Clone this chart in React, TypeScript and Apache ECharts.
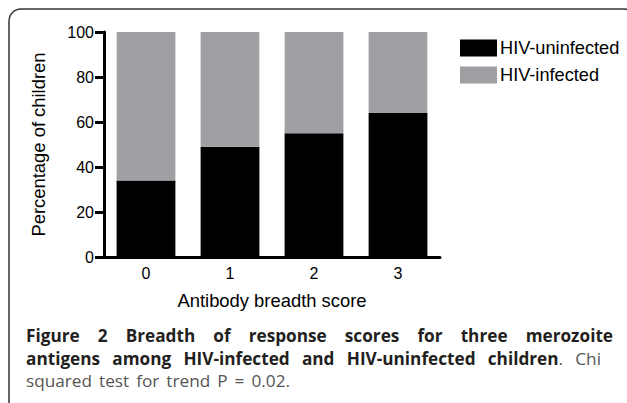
import React, { useEffect, useRef } from "react";
import * as echarts from "echarts";

const categories = ["0", "1", "2", "3"];
const uninfected = [34, 49, 55, 64];
const infected = [66, 51, 45, 36];
const seriesNames = ["HIV-uninfected", "HIV-infected"];
const yTicks = { min: 0, max: 100, interval: 20 };

type Seg = { text: string; bold: boolean; space: boolean };
const captionLines: Seg[][] = [
  "Figure 2 Breadth of response scores for three merozoite".split(" ").map((w, i) => ({ text: w, bold: true, space: i > 0 })),
  [
    ...("antigens among HIV-infected and HIV-uninfected children".split(" ").map((w, i) => ({ text: w, bold: true, space: i > 0 }))),
    { text: ".", bold: false, space: false },
    { text: "Chi", bold: false, space: true },
  ],
  "squared test for trend P = 0.02.".split(" ").map((w, i) => ({ text: w, bold: false, space: i > 0 })),
];

const CAP_FONT = "'Open Sans', 'DejaVu Sans', sans-serif";
const CAP_SIZE = 17.2;

function measure(ctx: CanvasRenderingContext2D, s: Seg) {
  ctx.font = `${s.bold ? "bold" : "normal"} ${CAP_SIZE}px ${CAP_FONT}`;
  return ctx.measureText(s.text).width;
}

function buildCaption(): any[] {
  const canvas = document.createElement("canvas");
  const ctx = canvas.getContext("2d") as CanvasRenderingContext2D;
  ctx.font = `normal ${CAP_SIZE}px ${CAP_FONT}`;
  const spaceW = ctx.measureText(" ").width;
  const x0 = 26;
  const ends = [613, 601, 290];
  const ys = [335.5, 358.5, 380.5];
  const els: any[] = [];
  captionLines.forEach((line, li) => {
    const widths = line.map((s) => measure(ctx, s));
    const total = widths.reduce((a, b) => a + b, 0);
    const gaps = line.filter((s) => s.space).length;
    const end = ends[li];
    const gap = end != null ? Math.max(spaceW, (end - x0 - total) / gaps) : spaceW;
    let x = x0;
    line.forEach((s, i) => {
      if (s.space) x += gap;
      els.push({
        type: "text",
        x,
        y: ys[li],
        style: {
          text: s.text,
          fontFamily: CAP_FONT,
          fontSize: CAP_SIZE,
          fontWeight: s.bold ? "bold" : "normal",
          fill: s.bold ? "#231f20" : "#555555",
          textVerticalAlign: "middle",
          verticalAlign: "middle",
          align: "left",
        },
      });
      x += widths[i];
    });
  });
  return els;
}

export default function App() {
  const ref = useRef<HTMLDivElement>(null);
  useEffect(() => {
    if (!ref.current) return;
    const chart = echarts.init(ref.current, null, { renderer: "svg" });
    const font = "'Liberation Sans', Arial, Helvetica, sans-serif";
    chart.setOption({
      animation: false,
      backgroundColor: "#ffffff",
      textStyle: { fontFamily: font, color: "#000" },
      grid: { left: 104, top: 32, right: 187, bottom: 146, containLabel: false },
      legend: {
        orient: "vertical",
        left: 460,
        top: 39,
        padding: 0,
        itemWidth: 37,
        itemHeight: 17,
        itemGap: 9,
        icon: "rect",
        data: seriesNames,
        textStyle: { fontSize: 18.2, color: "#000", fontFamily: font, padding: [0, 0, 0, -2] },
      },
      xAxis: {
        type: "category",
        data: categories,
        name: "Antibody breadth score",
        nameLocation: "middle",
        nameGap: 34,
        nameTextStyle: { fontSize: 18.4, color: "#000", fontFamily: font },
        axisLine: { lineStyle: { color: "#000", width: 3 } },
        axisTick: { alignWithLabel: true, length: 8, lineStyle: { color: "#000", width: 3 } },
        axisLabel: { fontSize: 16, color: "#000", margin: 8 },
      },
      yAxis: {
        type: "value",
        min: yTicks.min,
        max: yTicks.max,
        interval: yTicks.interval,
        name: "Percentage of children",
        nameLocation: "middle",
        nameGap: 57,
        nameTextStyle: { fontSize: 18.4, color: "#000", fontFamily: font },
        axisLine: { show: true, lineStyle: { color: "#000", width: 3 } },
        axisTick: { show: true, length: 9, lineStyle: { color: "#000", width: 3 } },
        axisLabel: { fontSize: 16, color: "#000", margin: 10 },
        splitLine: { show: false },
      },
      series: [
        { name: seriesNames[0], type: "bar", stack: "s", data: uninfected, barWidth: "70%", itemStyle: { color: "#000000" } },
        { name: seriesNames[1], type: "bar", stack: "s", data: infected, barWidth: "70%", itemStyle: { color: "#a09fa4" } },
      ],
      graphic: [
        {
          type: "rect",
          shape: { x: 9, y: 9, width: 627, height: 440, r: 12 },
          style: { fill: "none", stroke: "#333", lineWidth: 1.5 },
          silent: true,
        },
        ...buildCaption(),
      ],
    });
    return () => chart.dispose();
  }, []);
  return <div ref={ref} style={{ width: 627, height: 403, position: "absolute", left: 0, top: 0 }} />;
}
